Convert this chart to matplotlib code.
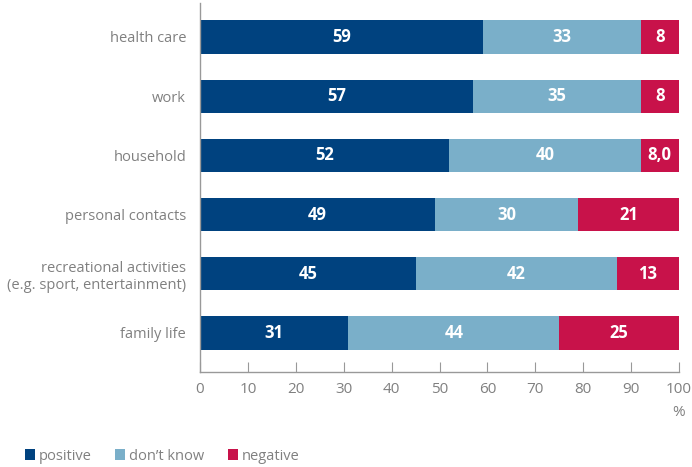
import matplotlib.pyplot as plt
import numpy as np

categories = ["health care", "work", "household", "personal contacts",
              "recreational activities\n(e.g. sport, entertainment)", "family life"]
positive = [59, 57, 52, 49, 45, 31]
dont_know = [33, 35, 40, 30, 42, 44]
negative = [8, 8, 8, 21, 13, 25]
negative_labels = ["8", "8", "8,0", "21", "13", "25"]
series_names = ["positive", "don\u2019t know", "negative"]
colors = ["#00427f", "#7aafc9", "#c8124a"]

GRAY = "#808080"
plt.rcParams["font.family"] = ["Open Sans", "DejaVu Sans"]

fig = plt.figure(figsize=(6.92, 4.67), dpi=100)
ax = fig.add_axes([200 / 692, 1 - 372 / 467, 479 / 692, 369 / 467])

y = np.arange(len(categories))
h = 0.56
left = np.zeros(len(categories))
labels_all = [[str(v) for v in positive], [str(v) for v in dont_know], negative_labels]
for vals, col, name, labs in zip([positive, dont_know, negative], colors, series_names, labels_all):
    vals = np.array(vals, dtype=float)
    ax.barh(y, vals, left=left, height=h, color=col, label=name, linewidth=0)
    for yi, l, v, t in zip(y, left, vals, labs):
        ax.text(l + v / 2, yi, t, ha="center", va="center", color="white",
                fontsize=12, fontweight="bold")
    left += vals

ax.set_xlim(0, 100)
ax.set_ylim(5.66, -0.574)
ax.set_yticks(y)
ax.set_yticklabels(categories, color=GRAY, fontsize=10.5)
ax.set_xticks(np.arange(0, 101, 10))
ax.tick_params(axis="y", length=0, pad=10)
ax.tick_params(axis="x", direction="in", length=7, color="#999999", labelcolor=GRAY,
               labelsize=11, pad=7)
for s in ["top", "right"]:
    ax.spines[s].set_visible(False)
for s in ["left", "bottom"]:
    ax.spines[s].set_color("#999999")
    ax.spines[s].set_linewidth(1.0)

fig.text(679 / 692, 1 - 412 / 467, "%", ha="center", va="center", color=GRAY, fontsize=11)

fig.legend(loc="center left", bbox_to_anchor=(12 / 692, 1 - 456 / 467), ncol=3,
           frameon=False, handlelength=0.7, handleheight=0.7, handletextpad=0.25,
           columnspacing=1.6, labelcolor=GRAY, fontsize=10.5)

fig.savefig("out.png", dpi=100)
